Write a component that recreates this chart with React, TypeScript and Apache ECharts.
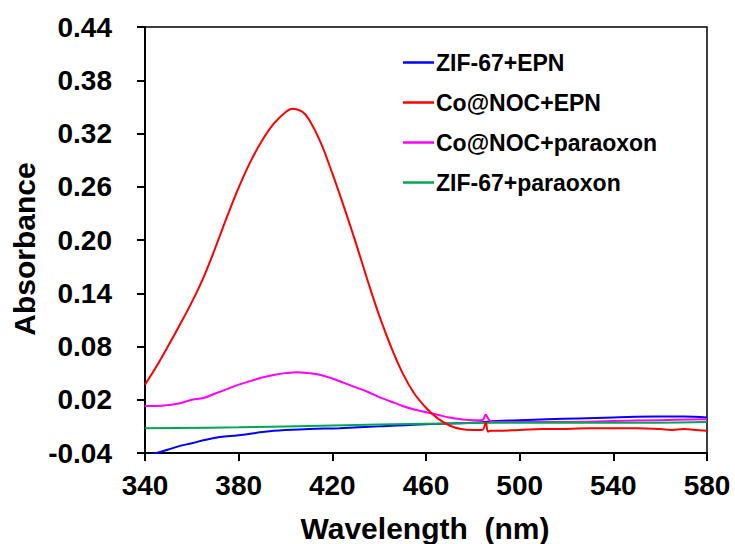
import React, { useEffect, useRef } from "react";
import * as echarts from "echarts";

const xTicks = [340, 380, 420, 460, 500, 540, 580];
const yTicks = [-0.04, 0.02, 0.08, 0.14, 0.2, 0.26, 0.32, 0.38, 0.44];

const seriesNames = ["ZIF-67+EPN", "Co@NOC+EPN", "Co@NOC+paraoxon", "ZIF-67+paraoxon"];
const seriesColors = ["#0000ff", "#ff0000", "#ff00ff", "#00a651"];

const blueX = [340, 345, 350, 355, 360, 366, 372, 380, 395, 410, 423, 440, 460, 480, 490, 500, 512, 525, 540, 558, 570, 580];
const blueY = [-0.044, -0.040, -0.036, -0.032, -0.029, -0.025, -0.022, -0.020, -0.015, -0.013, -0.012, -0.010, -0.0075, -0.006, -0.004, -0.003, -0.002, -0.001, 0.0, 0.001, 0.001, 0.0];

const redX = [340, 345, 350, 355, 360, 365, 370, 375, 380, 385, 390, 395, 400, 403, 407, 410, 415, 420, 425, 430, 435, 440, 445, 450, 455, 460, 465, 470, 475, 480, 484, 485.5, 486.5, 487.5, 490, 500, 510, 520, 530, 540, 550, 560, 565, 570, 575, 580];
const redY = [0.037, 0.058, 0.081, 0.105, 0.130, 0.158, 0.191, 0.226, 0.259, 0.288, 0.312, 0.331, 0.344, 0.348, 0.345, 0.336, 0.310, 0.275, 0.237, 0.197, 0.155, 0.115, 0.080, 0.050, 0.027, 0.011, -0.001, -0.009, -0.013, -0.014, -0.014, -0.006, -0.016, -0.015, -0.015, -0.014, -0.013, -0.013, -0.012, -0.012, -0.012, -0.013, -0.014, -0.013, -0.014, -0.015];

const pinkX = [340, 345, 350, 355, 360, 365, 370, 375, 380, 385, 390, 395, 400, 405, 410, 415, 420, 425, 430, 435, 440, 445, 450, 455, 460, 465, 470, 475, 480, 484, 485.5, 486.5, 487.5, 490, 500, 520, 540, 560, 580];
const pinkY = [0.013, 0.013, 0.014, 0.016, 0.020, 0.022, 0.027, 0.032, 0.037, 0.041, 0.045, 0.048, 0.050, 0.051, 0.050, 0.048, 0.044, 0.039, 0.034, 0.029, 0.023, 0.018, 0.013, 0.009, 0.006, 0.003, 0.000, -0.002, -0.003, -0.003, 0.003, -0.001, -0.004, -0.005, -0.005, -0.005, -0.004, -0.003, -0.002];

const greenX = [340, 380, 420, 460, 490, 540, 580];
const greenY = [-0.012, -0.011, -0.009, -0.007, -0.006, -0.006, -0.005];

const seriesXs = [blueX, redX, pinkX, greenX];
const seriesYs = [blueY, redY, pinkY, greenY];

const FONT = "'Liberation Sans', Arial, sans-serif";

export default function App() {
  const ref = useRef<HTMLDivElement>(null);
  useEffect(() => {
    if (!ref.current) return;
    const chart = echarts.init(ref.current, null, { renderer: "svg" });
    const series = seriesNames.map((name, i) => ({
      name,
      type: "line",
      data: seriesXs[i].map((x, j) => [x, seriesYs[i][j]]),
      symbol: "none",
      smooth: 0.4,
      clip: true,
      lineStyle: { color: seriesColors[i], width: 2 },
      itemStyle: { color: seriesColors[i] },
      z: i === 1 ? 4 : 3,
    }));
    chart.setOption({
      animation: false,
      backgroundColor: "#ffffff",
      grid: {
        left: 145,
        right: 28,
        top: 27,
        bottom: 91,
        show: true,
        borderColor: "#000",
        borderWidth: 1.5,
        backgroundColor: "transparent",
      },
      xAxis: {
        type: "value",
        min: 340,
        max: 580,
        axisLine: { show: true, onZero: false, lineStyle: { color: "#000", width: 2 } },
        axisTick: { show: true, inside: false, length: 8, customValues: xTicks, lineStyle: { color: "#000", width: 2 } },
        axisLabel: {
          customValues: xTicks,
          margin: 18,
          fontSize: 28,
          fontWeight: "bold",
          fontFamily: FONT,
          color: "#000",
        },
        splitLine: { show: false },
      },
      yAxis: {
        type: "value",
        min: -0.04,
        max: 0.44,
        axisLine: { show: true, onZero: false, lineStyle: { color: "#000", width: 2 } },
        axisTick: { show: true, inside: false, length: 8, customValues: yTicks, lineStyle: { color: "#000", width: 2 } },
        axisLabel: {
          customValues: yTicks,
          margin: 33,
          fontSize: 28,
          fontWeight: "bold",
          fontFamily: FONT,
          color: "#000",
          formatter: (v: number) => v.toFixed(2),
        },
        splitLine: { show: false },
      },
      legend: {
        orient: "vertical",
        left: 398,
        top: 46,
        itemWidth: 31,
        itemHeight: 2.5,
        itemGap: 17,
        icon: "rect",
        data: seriesNames,
        textStyle: {
          fontSize: 23,
          fontWeight: "bold",
          fontFamily: FONT,
          color: "#000",
          padding: [0, 0, 0, -3],
        },
      },
      graphic: [
        {
          type: "text",
          x: 24,
          y: 249,
          rotation: Math.PI / 2,
          style: {
            text: "Absorbance",
            fontSize: 30,
            fontWeight: "bold",
            fontFamily: FONT,
            fill: "#000",
            textAlign: "center",
            textVerticalAlign: "middle",
          },
        },
        {
          type: "text",
          x: 425,
          y: 528,
          style: {
            text: "Wavelength  (nm)",
            fontSize: 30,
            fontWeight: "bold",
            fontFamily: FONT,
            fill: "#000",
            textAlign: "center",
            textVerticalAlign: "middle",
          },
        },
      ],
      series,
    });
    return () => chart.dispose();
  }, []);
  return (
    <div
      ref={ref}
      style={{ position: "fixed", left: 0, top: 0, width: 735, height: 544 }}
    />
  );
}
